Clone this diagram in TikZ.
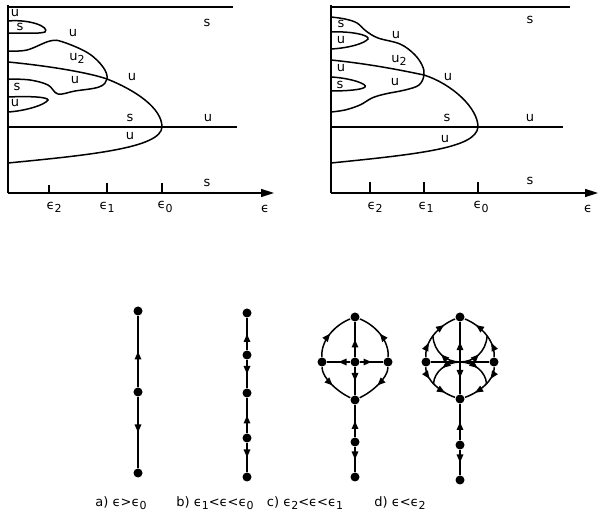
\documentclass[tikz,border=0pt]{standalone}
\usepackage{fontspec}
\setmainfont{DejaVu Sans}
\usetikzlibrary{arrows.meta,decorations.markings}
\newcommand\eps{ϵ}
\newcommand\epsub[1]{ϵ\raisebox{-0.45ex}{\fontsize{11}{12}\selectfont #1}}

\begin{document}
\begin{tikzpicture}[x=1pt, y=-1pt, line width=1.5pt,
    dot/.style={circle, fill, inner sep=0pt, minimum size=9pt},
    lbl/.style={font=\fontsize{13}{15}\selectfont, inner sep=0pt},
    flow/.style={postaction={decorate}, decoration={markings,
        mark=at position .5 with {\arrow{Triangle[length=8pt,width=6.5pt]}}}},
    flowtwo/.style={postaction={decorate}, decoration={markings,
        mark=at position .28 with {\arrow{Triangle[length=8pt,width=6.5pt]}},
        mark=at position .75 with {\arrow{Triangle[length=8pt,width=6.5pt]}}}},
    axis/.style={-{Triangle[length=13pt,width=8pt]}},
  ]
  \useasboundingbox (0,0) rectangle (603,518);

  % Left bifurcation diagram
  \draw (8,5) -- (8,193);
  \draw (8,7) -- (233,7);
  \draw (8,127) -- (237,127);
  \draw[axis] (8,193) -- (274,193);
  \draw (49,185) -- (49,193);
  \draw (107,183) -- (107,193);
  \draw (162,183) -- (162,193);
  \draw (8,21) .. controls (30,19) and (50,27) .. (45,32) .. controls (40,34) and (20,33) .. (8,33);
  \draw plot[smooth, tension=.6] coordinates {(8,51) (27,50) (50,41) (63,42) (88,53) (103,67) (107,79)
        (99,87) (75,91) (58,94) (48,85) (30,80) (8,79)};
  \draw (8,62) .. controls (50,66) and (90,73) .. (107,79) .. controls (135,90) and (162,108) .. (162,127)
        .. controls (161,148) and (90,155) .. (8,163);
  \draw (8,97) .. controls (30,96) and (48,97) .. (48,100) .. controls (45,105) and (25,111) .. (8,112);
  \node[lbl] (lu1) at (15,13)  {u};
  \node[lbl] (ls1) at (20,27)  {s};
  \node[lbl] (lu2) at (73,33)  {u};
  \node[lbl] (lu3) at (77,58)  {u\raisebox{-0.45ex}{\fontsize{11}{12}\selectfont 2}};
  \node[lbl] (lu4) at (75,80)  {u};
  \node[lbl] (ls2) at (17,87)  {s};
  \node[lbl] (lu5) at (15,103) {u};
  \node[lbl] (lu6) at (132,77) {u};
  \node[lbl] (ls3) at (130,118) {s};
  \node[lbl] (lu7) at (208,118) {u};
  \node[lbl] (lu8) at (130,136) {u};
  \node[lbl] (ls4) at (207,23) {s};
  \node[lbl] (ls5) at (207,183) {s};
  \node[lbl] (le2) at (54,207) {\epsub{2}};
  \node[lbl] (le1) at (107,207) {\epsub{1}};
  \node[lbl] (le0) at (165,207) {\epsub{0}};
  \node[lbl] (le)  at (265,209) {\eps};

  % Right bifurcation diagram
  \draw (331,5) -- (331,193);
  \draw (331,7) -- (570,7);
  \draw (331,127) -- (563,127);
  \draw[axis] (331,193) -- (598,193);
  \draw (370,182) -- (370,193);
  \draw (424,182) -- (424,193);
  \draw (478,182) -- (478,193);
  \draw plot[smooth, tension=.6] coordinates {(331,17) (345,19) (357,23) (366,31) (378,38) (400,44) (414,54)
        (422,65) (424,75) (419,85) (405,90) (385,94) (372,98) (360,105) (345,110) (331,112)};
  \draw (331,32) .. controls (350,31) and (370,35) .. (368,39) .. controls (365,43) and (350,48) .. (331,49);
  \draw (331,60) .. controls (370,64) and (400,70) .. (424,75) .. controls (452,84) and (478,108) .. (478,127)
        .. controls (476,148) and (420,154) .. (331,163);
  \draw (331,77) .. controls (350,78) and (368,84) .. (365,87) .. controls (362,90) and (345,91) .. (331,91);
  \node[lbl] (rs1) at (341,24)  {s};
  \node[lbl] (ru1) at (341,40)  {u};
  \node[lbl] (ru2) at (396,35)  {u};
  \node[lbl] (ru3) at (399,60)  {u\raisebox{-0.45ex}{\fontsize{11}{12}\selectfont 2}};
  \node[lbl] (ru4) at (341,68)  {u};
  \node[lbl] (rs2) at (340,85)  {s};
  \node[lbl] (ru5) at (395,82)  {u};
  \node[lbl] (ru6) at (448,77)  {u};
  \node[lbl] (rs3) at (447,118) {s};
  \node[lbl] (ru7) at (530,118) {u};
  \node[lbl] (ru8) at (445,139) {u};
  \node[lbl] (rs4) at (530,20)  {s};
  \node[lbl] (rs5) at (530,181) {s};
  \node[lbl] (re2) at (375,207) {\epsub{2}};
  \node[lbl] (re1) at (426,207) {\epsub{1}};
  \node[lbl] (re0) at (481,207) {\epsub{0}};
  \node[lbl] (re)  at (588,209) {\eps};

  % a) one source between two sinks
  \node[dot] (a1) at (138,311) {};
  \node[dot] (a2) at (138,392) {};
  \node[dot] (a3) at (138,473) {};
  \draw[flow] (a2) -- (a1);
  \draw[flow] (a2) -- (a3);

  % b) five points on a line
  \node[dot] (b1) at (247,313) {};
  \node[dot] (b2) at (247,355) {};
  \node[dot] (b3) at (247,393) {};
  \node[dot] (b4) at (247,438) {};
  \node[dot] (b5) at (247,477) {};
  \draw[flow] (b2) -- (b1);
  \draw[flow] (b2) -- (b3);
  \draw[flow] (b4) -- (b3);
  \draw[flow] (b4) -- (b5);

  % c) cross inside a loop
  \node[dot] (cT)  at (355,317) {};
  \node[dot] (cL)  at (322,362) {};
  \node[dot] (cC)  at (355,362) {};
  \node[dot] (cR)  at (388,362) {};
  \node[dot] (cB)  at (355,400) {};
  \node[dot] (cS1) at (355,442) {};
  \node[dot] (cS2) at (355,477) {};
  \draw[flow] (cC) -- (cT);
  \draw[flow] (cC) -- (cB);
  \draw[flow] (cC) -- (cL);
  \draw[flow] (cC) -- (cR);
  \draw[flow] (cL) .. controls (321,340) and (335,325) .. (cT);
  \draw[flow] (cR) .. controls (389,340) and (375,325) .. (cT);
  \draw[flow] (cL) .. controls (322,378) and (338,392) .. (cB);
  \draw[flow] (cR) .. controls (388,378) and (372,392) .. (cB);
  \draw[flow] (cS1) -- (cB);
  \draw[flow] (cS1) -- (cS2);

  % d) loop with inner lobes
  \node[dot] (dT)  at (460,317) {};
  \node[dot] (dL)  at (426,362) {};
  \node[dot] (dR)  at (494,362) {};
  \node[dot] (dB)  at (460,399) {};
  \coordinate (dC) at (460,362);
  \node[dot] (dS1) at (460,445) {};
  \node[dot] (dS2) at (460,480) {};
  \draw (dL) -- (dR);
  \draw[flow] (dC) -- (dT);
  \draw[flow] (dC) -- (dB);
  \draw[flowtwo] (dL) .. controls (425,340) and (440,325) .. (dT) coordinate[pos=.45] (dUL);
  \draw[flowtwo] (dR) .. controls (495,340) and (480,325) .. (dT) coordinate[pos=.45] (dUR);
  \draw[flowtwo] (dL) .. controls (425,380) and (442,393) .. (dB) coordinate[pos=.45] (dLL);
  \draw[flowtwo] (dR) .. controls (495,380) and (478,393) .. (dB) coordinate[pos=.45] (dLR);
  \draw[flow] (dC) .. controls (446,362) and (434,352) .. (dUL);
  \draw[flow] (dC) .. controls (474,362) and (486,352) .. (dUR);
  \draw[flow] (dC) .. controls (446,362) and (434,372) .. (dLL);
  \draw[flow] (dC) .. controls (474,362) and (486,372) .. (dLR);
  \draw[flow] (dS1) -- (dB);
  \draw[flow] (dS1) -- (dS2);

  % captions
  \node[lbl] (capa) at (121,503) {a) \eps>\epsub{0}};
  \node[lbl] (capb) at (215,503) {b) \epsub{1}<\eps<\epsub{0}};
  \node[lbl] (capc) at (305,503) {c) \epsub{2}<\eps<\epsub{1}};
  \node[lbl] (capd) at (400,503) {d) \eps<\epsub{2}};
\end{tikzpicture}
\end{document}
